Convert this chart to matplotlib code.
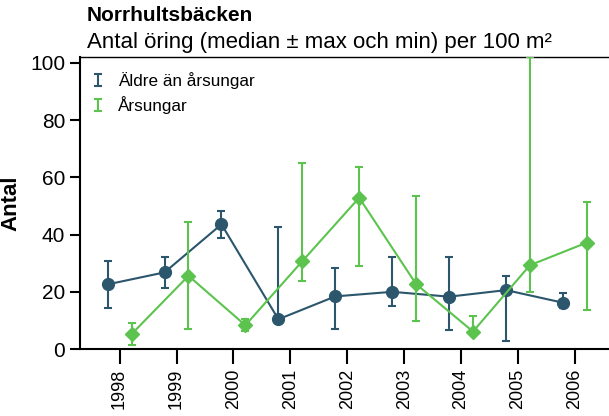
import matplotlib
matplotlib.use("Agg")
import matplotlib.pyplot as plt
from matplotlib.container import ErrorbarContainer
from matplotlib.legend_handler import HandlerErrorbar
import numpy as np

plt.rcParams['font.family'] = ['Liberation Sans', 'DejaVu Sans']

years = [1998, 1999, 2000, 2001, 2002, 2003, 2004, 2005, 2006]

# Äldre än årsungar: median, max, min
old_med = [22.6, 26.8, 43.6, 10.4, 18.4, 20.0, 18.3, 20.6, 16.2]
old_max = [30.9, 32.3, 48.4, 42.8, 28.3, 32.2, 32.2, 25.5, 19.7]
old_min = [14.4, 21.3, 38.8, 10.4, 6.9, 15.0, 6.8, 2.8, 14.2]

# Årsungar: median, max, min
yoy_med = [5.2, 25.6, 8.3, 30.7, 52.9, 22.7, 6.1, 29.3, 37.2]
yoy_max = [9.2, 44.5, 10.4, 65.1, 63.6, 53.6, 11.6, 102.0, 51.4]
yoy_min = [1.5, 7.1, 6.3, 23.9, 29.0, 9.9, 6.1, 20.0, 13.5]

blue = "#2b566b"
green = "#5cc44e"

fig = plt.figure(figsize=(6.09, 4.16), dpi=100)
ax = fig.add_axes([0.131, 0.161, 0.869, 0.702])

x = np.array(years, dtype=float)
off = 0.21

om = np.array(old_med)
ax.errorbar(x - off, om, yerr=[om - np.array(old_min), np.array(old_max) - om],
            color=blue, marker="o", markersize=8.5, lw=1.5, elinewidth=1.5,
            capsize=3, capthick=1.5, zorder=3, clip_on=False)
ym = np.array(yoy_med)
ax.errorbar(x + off, ym, yerr=[ym - np.array(yoy_min), np.array(yoy_max) - ym],
            color=green, marker="D", markersize=7.5, lw=1.5, elinewidth=1.5,
            capsize=3, capthick=1.5, zorder=4)

# legend handles: only the error bar symbol (drawn off-axes so caps exist)
h1 = ax.errorbar([1990], [50], yerr=[5], fmt="none", ecolor=blue, elinewidth=1.5,
                 capsize=3, capthick=1.5, label="Äldre än årsungar")
h2 = ax.errorbar([1990], [50], yerr=[5], fmt="none", ecolor=green, elinewidth=1.5,
                 capsize=3, capthick=1.5, label="Årsungar")
ax.legend(handles=[h1, h2], loc="upper left", frameon=False, fontsize=12.3,
          handlelength=1.0, handletextpad=0.7, borderaxespad=0.4,
          labelspacing=0.4, bbox_to_anchor=(-0.008, 0.995),
          handler_map={ErrorbarContainer: HandlerErrorbar(yerr_size=0.36)})

ax.set_xlim(1997.3, 2006.6)
ax.set_ylim(0, 102.1)
ax.set_yticks([0, 20, 40, 60, 80, 100])
ax.set_xticks(years)
ax.set_xticklabels([str(y) for y in years], rotation=90, fontsize=13)
ax.tick_params(axis="y", labelsize=15, length=7, width=1.5, direction="out")
ax.tick_params(axis="x", length=11, width=1.5, direction="out", pad=3)

for s in ["left", "bottom"]:
    ax.spines[s].set_linewidth(1.5)
ax.spines["top"].set_linewidth(1.0)
ax.spines["right"].set_visible(False)

ax.set_ylabel("Antal", fontsize=16, fontweight="bold", labelpad=6)

fig.text(0.143, 0.962, "Norrhultsbäcken", fontsize=15, fontweight="bold",
         ha="left", va="center")
fig.text(0.143, 0.897, "Antal öring (median ± max och min) per 100 m²",
         fontsize=16, ha="left", va="center")

fig.savefig("out.png", dpi=100)
